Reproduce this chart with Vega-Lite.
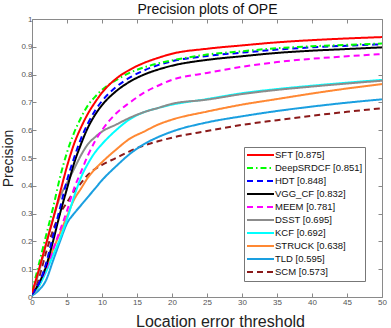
{
 "$schema": "https://vega.github.io/schema/vega-lite/v6.json",
 "width": 350, "height": 278,
 "autosize": {"type": "none"},
 "padding": {"left": 32, "top": 19, "right": 9, "bottom": 31},
 "background": "white",
 "config": {"font": "Liberation Sans", "view": {"stroke": "#8a8a8a", "strokeWidth": 1}},
 "datasets": {
  "curves": [
   {"tracker":"SCM [0.573]","threshold":0,"precision":0.01},{"tracker":"SCM [0.573]","threshold":1,"precision":0.07},{"tracker":"SCM [0.573]","threshold":2,"precision":0.16},{"tracker":"SCM [0.573]","threshold":3,"precision":0.24},{"tracker":"SCM [0.573]","threshold":4,"precision":0.3},{"tracker":"SCM [0.573]","threshold":5,"precision":0.34},{"tracker":"SCM [0.573]","threshold":6,"precision":0.38},{"tracker":"SCM [0.573]","threshold":7,"precision":0.41},{"tracker":"SCM [0.573]","threshold":8,"precision":0.44},{"tracker":"SCM [0.573]","threshold":9,"precision":0.46},{"tracker":"SCM [0.573]","threshold":10,"precision":0.475},{"tracker":"SCM [0.573]","threshold":12,"precision":0.5},{"tracker":"SCM [0.573]","threshold":14,"precision":0.525},{"tracker":"SCM [0.573]","threshold":16,"precision":0.545},{"tracker":"SCM [0.573]","threshold":18,"precision":0.56},{"tracker":"SCM [0.573]","threshold":20,"precision":0.573},{"tracker":"SCM [0.573]","threshold":25,"precision":0.597},{"tracker":"SCM [0.573]","threshold":30,"precision":0.619},{"tracker":"SCM [0.573]","threshold":35,"precision":0.636},{"tracker":"SCM [0.573]","threshold":40,"precision":0.652},{"tracker":"SCM [0.573]","threshold":45,"precision":0.666},{"tracker":"SCM [0.573]","threshold":50,"precision":0.679},
   {"tracker":"TLD [0.595]","threshold":0,"precision":0.005},{"tracker":"TLD [0.595]","threshold":1,"precision":0.025},{"tracker":"TLD [0.595]","threshold":2,"precision":0.06},{"tracker":"TLD [0.595]","threshold":3,"precision":0.13},{"tracker":"TLD [0.595]","threshold":4,"precision":0.2},{"tracker":"TLD [0.595]","threshold":5,"precision":0.265},{"tracker":"TLD [0.595]","threshold":6,"precision":0.3},{"tracker":"TLD [0.595]","threshold":7,"precision":0.33},{"tracker":"TLD [0.595]","threshold":8,"precision":0.36},{"tracker":"TLD [0.595]","threshold":9,"precision":0.39},{"tracker":"TLD [0.595]","threshold":10,"precision":0.42},{"tracker":"TLD [0.595]","threshold":12,"precision":0.47},{"tracker":"TLD [0.595]","threshold":14,"precision":0.515},{"tracker":"TLD [0.595]","threshold":16,"precision":0.55},{"tracker":"TLD [0.595]","threshold":18,"precision":0.575},{"tracker":"TLD [0.595]","threshold":20,"precision":0.595},{"tracker":"TLD [0.595]","threshold":25,"precision":0.628},{"tracker":"TLD [0.595]","threshold":30,"precision":0.65},{"tracker":"TLD [0.595]","threshold":35,"precision":0.669},{"tracker":"TLD [0.595]","threshold":40,"precision":0.685},{"tracker":"TLD [0.595]","threshold":45,"precision":0.699},{"tracker":"TLD [0.595]","threshold":50,"precision":0.711},
   {"tracker":"STRUCK [0.638]","threshold":0,"precision":0.01},{"tracker":"STRUCK [0.638]","threshold":1,"precision":0.04},{"tracker":"STRUCK [0.638]","threshold":2,"precision":0.1},{"tracker":"STRUCK [0.638]","threshold":3,"precision":0.17},{"tracker":"STRUCK [0.638]","threshold":4,"precision":0.23},{"tracker":"STRUCK [0.638]","threshold":5,"precision":0.29},{"tracker":"STRUCK [0.638]","threshold":6,"precision":0.35},{"tracker":"STRUCK [0.638]","threshold":7,"precision":0.39},{"tracker":"STRUCK [0.638]","threshold":8,"precision":0.43},{"tracker":"STRUCK [0.638]","threshold":9,"precision":0.46},{"tracker":"STRUCK [0.638]","threshold":10,"precision":0.485},{"tracker":"STRUCK [0.638]","threshold":12,"precision":0.53},{"tracker":"STRUCK [0.638]","threshold":14,"precision":0.57},{"tracker":"STRUCK [0.638]","threshold":16,"precision":0.595},{"tracker":"STRUCK [0.638]","threshold":18,"precision":0.62},{"tracker":"STRUCK [0.638]","threshold":20,"precision":0.638},{"tracker":"STRUCK [0.638]","threshold":25,"precision":0.667},{"tracker":"STRUCK [0.638]","threshold":30,"precision":0.692},{"tracker":"STRUCK [0.638]","threshold":35,"precision":0.712},{"tracker":"STRUCK [0.638]","threshold":40,"precision":0.732},{"tracker":"STRUCK [0.638]","threshold":45,"precision":0.75},{"tracker":"STRUCK [0.638]","threshold":50,"precision":0.766},
   {"tracker":"KCF [0.692]","threshold":0,"precision":0.01},{"tracker":"KCF [0.692]","threshold":1,"precision":0.04},{"tracker":"KCF [0.692]","threshold":2,"precision":0.09},{"tracker":"KCF [0.692]","threshold":3,"precision":0.15},{"tracker":"KCF [0.692]","threshold":4,"precision":0.21},{"tracker":"KCF [0.692]","threshold":5,"precision":0.28},{"tracker":"KCF [0.692]","threshold":6,"precision":0.36},{"tracker":"KCF [0.692]","threshold":7,"precision":0.43},{"tracker":"KCF [0.692]","threshold":8,"precision":0.48},{"tracker":"KCF [0.692]","threshold":9,"precision":0.52},{"tracker":"KCF [0.692]","threshold":10,"precision":0.55},{"tracker":"KCF [0.692]","threshold":12,"precision":0.6},{"tracker":"KCF [0.692]","threshold":14,"precision":0.64},{"tracker":"KCF [0.692]","threshold":16,"precision":0.665},{"tracker":"KCF [0.692]","threshold":18,"precision":0.68},{"tracker":"KCF [0.692]","threshold":20,"precision":0.692},{"tracker":"KCF [0.692]","threshold":25,"precision":0.712},{"tracker":"KCF [0.692]","threshold":30,"precision":0.733},{"tracker":"KCF [0.692]","threshold":35,"precision":0.748},{"tracker":"KCF [0.692]","threshold":40,"precision":0.76},{"tracker":"KCF [0.692]","threshold":45,"precision":0.771},{"tracker":"KCF [0.692]","threshold":50,"precision":0.781},
   {"tracker":"DSST [0.695]","threshold":0,"precision":0.01},{"tracker":"DSST [0.695]","threshold":1,"precision":0.09},{"tracker":"DSST [0.695]","threshold":2,"precision":0.19},{"tracker":"DSST [0.695]","threshold":3,"precision":0.28},{"tracker":"DSST [0.695]","threshold":4,"precision":0.36},{"tracker":"DSST [0.695]","threshold":5,"precision":0.41},{"tracker":"DSST [0.695]","threshold":6,"precision":0.46},{"tracker":"DSST [0.695]","threshold":7,"precision":0.51},{"tracker":"DSST [0.695]","threshold":8,"precision":0.55},{"tracker":"DSST [0.695]","threshold":9,"precision":0.575},{"tracker":"DSST [0.695]","threshold":10,"precision":0.595},{"tracker":"DSST [0.695]","threshold":12,"precision":0.62},{"tracker":"DSST [0.695]","threshold":14,"precision":0.645},{"tracker":"DSST [0.695]","threshold":16,"precision":0.665},{"tracker":"DSST [0.695]","threshold":18,"precision":0.68},{"tracker":"DSST [0.695]","threshold":20,"precision":0.695},{"tracker":"DSST [0.695]","threshold":25,"precision":0.71},{"tracker":"DSST [0.695]","threshold":30,"precision":0.73},{"tracker":"DSST [0.695]","threshold":35,"precision":0.745},{"tracker":"DSST [0.695]","threshold":40,"precision":0.757},{"tracker":"DSST [0.695]","threshold":45,"precision":0.768},{"tracker":"DSST [0.695]","threshold":50,"precision":0.778},
   {"tracker":"MEEM [0.781]","threshold":0,"precision":0.01},{"tracker":"MEEM [0.781]","threshold":1,"precision":0.05},{"tracker":"MEEM [0.781]","threshold":2,"precision":0.1},{"tracker":"MEEM [0.781]","threshold":3,"precision":0.17},{"tracker":"MEEM [0.781]","threshold":4,"precision":0.24},{"tracker":"MEEM [0.781]","threshold":5,"precision":0.31},{"tracker":"MEEM [0.781]","threshold":6,"precision":0.39},{"tracker":"MEEM [0.781]","threshold":7,"precision":0.45},{"tracker":"MEEM [0.781]","threshold":8,"precision":0.51},{"tracker":"MEEM [0.781]","threshold":9,"precision":0.56},{"tracker":"MEEM [0.781]","threshold":10,"precision":0.6},{"tracker":"MEEM [0.781]","threshold":12,"precision":0.66},{"tracker":"MEEM [0.781]","threshold":14,"precision":0.7},{"tracker":"MEEM [0.781]","threshold":16,"precision":0.735},{"tracker":"MEEM [0.781]","threshold":18,"precision":0.76},{"tracker":"MEEM [0.781]","threshold":20,"precision":0.781},{"tracker":"MEEM [0.781]","threshold":25,"precision":0.806},{"tracker":"MEEM [0.781]","threshold":30,"precision":0.828},{"tracker":"MEEM [0.781]","threshold":35,"precision":0.845},{"tracker":"MEEM [0.781]","threshold":40,"precision":0.857},{"tracker":"MEEM [0.781]","threshold":45,"precision":0.866},{"tracker":"MEEM [0.781]","threshold":50,"precision":0.874},
   {"tracker":"VGG_CF [0.832]","threshold":0,"precision":0.01},{"tracker":"VGG_CF [0.832]","threshold":1,"precision":0.05},{"tracker":"VGG_CF [0.832]","threshold":2,"precision":0.11},{"tracker":"VGG_CF [0.832]","threshold":3,"precision":0.2},{"tracker":"VGG_CF [0.832]","threshold":4,"precision":0.3},{"tracker":"VGG_CF [0.832]","threshold":5,"precision":0.39},{"tracker":"VGG_CF [0.832]","threshold":6,"precision":0.48},{"tracker":"VGG_CF [0.832]","threshold":7,"precision":0.55},{"tracker":"VGG_CF [0.832]","threshold":8,"precision":0.61},{"tracker":"VGG_CF [0.832]","threshold":9,"precision":0.655},{"tracker":"VGG_CF [0.832]","threshold":10,"precision":0.69},{"tracker":"VGG_CF [0.832]","threshold":12,"precision":0.74},{"tracker":"VGG_CF [0.832]","threshold":14,"precision":0.775},{"tracker":"VGG_CF [0.832]","threshold":16,"precision":0.8},{"tracker":"VGG_CF [0.832]","threshold":18,"precision":0.818},{"tracker":"VGG_CF [0.832]","threshold":20,"precision":0.832},{"tracker":"VGG_CF [0.832]","threshold":25,"precision":0.853},{"tracker":"VGG_CF [0.832]","threshold":30,"precision":0.866},{"tracker":"VGG_CF [0.832]","threshold":35,"precision":0.878},{"tracker":"VGG_CF [0.832]","threshold":40,"precision":0.886},{"tracker":"VGG_CF [0.832]","threshold":45,"precision":0.892},{"tracker":"VGG_CF [0.832]","threshold":50,"precision":0.898},
   {"tracker":"HDT [0.848]","threshold":0,"precision":0.01},{"tracker":"HDT [0.848]","threshold":1,"precision":0.05},{"tracker":"HDT [0.848]","threshold":2,"precision":0.12},{"tracker":"HDT [0.848]","threshold":3,"precision":0.22},{"tracker":"HDT [0.848]","threshold":4,"precision":0.32},{"tracker":"HDT [0.848]","threshold":5,"precision":0.42},{"tracker":"HDT [0.848]","threshold":6,"precision":0.5},{"tracker":"HDT [0.848]","threshold":7,"precision":0.57},{"tracker":"HDT [0.848]","threshold":8,"precision":0.625},{"tracker":"HDT [0.848]","threshold":9,"precision":0.67},{"tracker":"HDT [0.848]","threshold":10,"precision":0.705},{"tracker":"HDT [0.848]","threshold":12,"precision":0.755},{"tracker":"HDT [0.848]","threshold":14,"precision":0.79},{"tracker":"HDT [0.848]","threshold":16,"precision":0.815},{"tracker":"HDT [0.848]","threshold":18,"precision":0.834},{"tracker":"HDT [0.848]","threshold":20,"precision":0.848},{"tracker":"HDT [0.848]","threshold":25,"precision":0.867},{"tracker":"HDT [0.848]","threshold":30,"precision":0.879},{"tracker":"HDT [0.848]","threshold":35,"precision":0.89},{"tracker":"HDT [0.848]","threshold":40,"precision":0.898},{"tracker":"HDT [0.848]","threshold":45,"precision":0.904},{"tracker":"HDT [0.848]","threshold":50,"precision":0.909},
   {"tracker":"DeepSRDCF [0.851]","threshold":0,"precision":0.02},{"tracker":"DeepSRDCF [0.851]","threshold":1,"precision":0.12},{"tracker":"DeepSRDCF [0.851]","threshold":2,"precision":0.22},{"tracker":"DeepSRDCF [0.851]","threshold":3,"precision":0.32},{"tracker":"DeepSRDCF [0.851]","threshold":4,"precision":0.43},{"tracker":"DeepSRDCF [0.851]","threshold":5,"precision":0.52},{"tracker":"DeepSRDCF [0.851]","threshold":6,"precision":0.59},{"tracker":"DeepSRDCF [0.851]","threshold":7,"precision":0.645},{"tracker":"DeepSRDCF [0.851]","threshold":8,"precision":0.69},{"tracker":"DeepSRDCF [0.851]","threshold":9,"precision":0.72},{"tracker":"DeepSRDCF [0.851]","threshold":10,"precision":0.745},{"tracker":"DeepSRDCF [0.851]","threshold":12,"precision":0.78},{"tracker":"DeepSRDCF [0.851]","threshold":14,"precision":0.807},{"tracker":"DeepSRDCF [0.851]","threshold":16,"precision":0.826},{"tracker":"DeepSRDCF [0.851]","threshold":18,"precision":0.84},{"tracker":"DeepSRDCF [0.851]","threshold":20,"precision":0.851},{"tracker":"DeepSRDCF [0.851]","threshold":25,"precision":0.872},{"tracker":"DeepSRDCF [0.851]","threshold":30,"precision":0.884},{"tracker":"DeepSRDCF [0.851]","threshold":35,"precision":0.895},{"tracker":"DeepSRDCF [0.851]","threshold":40,"precision":0.902},{"tracker":"DeepSRDCF [0.851]","threshold":45,"precision":0.907},{"tracker":"DeepSRDCF [0.851]","threshold":50,"precision":0.912},
   {"tracker":"SFT [0.875]","threshold":0,"precision":0.015},{"tracker":"SFT [0.875]","threshold":1,"precision":0.1},{"tracker":"SFT [0.875]","threshold":2,"precision":0.19},{"tracker":"SFT [0.875]","threshold":3,"precision":0.28},{"tracker":"SFT [0.875]","threshold":4,"precision":0.375},{"tracker":"SFT [0.875]","threshold":5,"precision":0.47},{"tracker":"SFT [0.875]","threshold":6,"precision":0.55},{"tracker":"SFT [0.875]","threshold":7,"precision":0.61},{"tracker":"SFT [0.875]","threshold":8,"precision":0.66},{"tracker":"SFT [0.875]","threshold":9,"precision":0.7},{"tracker":"SFT [0.875]","threshold":10,"precision":0.735},{"tracker":"SFT [0.875]","threshold":12,"precision":0.785},{"tracker":"SFT [0.875]","threshold":14,"precision":0.818},{"tracker":"SFT [0.875]","threshold":16,"precision":0.842},{"tracker":"SFT [0.875]","threshold":18,"precision":0.86},{"tracker":"SFT [0.875]","threshold":20,"precision":0.875},{"tracker":"SFT [0.875]","threshold":25,"precision":0.893},{"tracker":"SFT [0.875]","threshold":30,"precision":0.905},{"tracker":"SFT [0.875]","threshold":35,"precision":0.916},{"tracker":"SFT [0.875]","threshold":40,"precision":0.924},{"tracker":"SFT [0.875]","threshold":45,"precision":0.93},{"tracker":"SFT [0.875]","threshold":50,"precision":0.935}
  ]
 },
 "data": {"name": "curves"},
 "layer": [
  {
   "mark": {"type": "line", "strokeWidth": 2, "interpolate": "monotone", "clip": true},
   "encoding": {
    "x": {"field": "threshold", "type": "quantitative", "scale": {"domain": [0, 50], "nice": false},
     "axis": {"values": [0,5,10,15,20,25,30,35,40,45,50], "tickSize": -4, "tickColor": "#888", "domain": false, "grid": false, "labelFontSize": 8, "labelColor": "#555", "labelPadding": 5, "labelFlush": false, "labelOverlap": false,
      "title": "Location error threshold", "titleFontSize": 16, "titleFontWeight": "normal", "titleColor": "#222", "titleX": 188, "titleY": 29, "titleBaseline": "alphabetic", "titleAlign": "center"}},
    "y": {"field": "precision", "type": "quantitative", "scale": {"domain": [0, 1], "nice": false},
     "axis": {"values": [0,0.1,0.2,0.3,0.4,0.5,0.6,0.7,0.8,0.9,1], "format": ".1~f", "tickSize": -4, "tickColor": "#888", "domain": false, "grid": false, "labelFontSize": 8, "labelColor": "#555", "labelPadding": 4, "labelOverlap": false,
      "title": "Precision", "titleFontSize": 14, "titleFontWeight": "normal", "titleColor": "#222", "titleX": -20, "titleY": 139, "titleAngle": 270, "titleBaseline": "alphabetic", "titleAlign": "center"}},
    "color": {"field": "tracker", "type": "nominal",
     "scale": {"domain": ["SFT [0.875]","DeepSRDCF [0.851]","HDT [0.848]","VGG_CF [0.832]","MEEM [0.781]","DSST [0.695]","KCF [0.692]","STRUCK [0.638]","TLD [0.595]","SCM [0.573]"],
      "range": ["#ff0000","#00ff00","#0000ff","#000000","#ff00ff","#8c8c8c","#00ffff","#ff8833","#1a9fe0","#8b1a1a"]},
     "legend": {"title": null, "orient": "none", "legendX": 212, "legendY": 128, "symbolType": "stroke", "symbolSize": 729, "symbolStrokeWidth": 2, "clipHeight": 12.2, "rowPadding": 0, "padding": 2, "labelFontSize": 9.5, "labelColor": "#111", "labelOffset": 0, "strokeColor": "#777", "fillColor": "white", "labelLimit": 200}},
    "strokeDash": {"field": "tracker", "type": "nominal",
     "scale": {"domain": ["SFT [0.875]","DeepSRDCF [0.851]","HDT [0.848]","VGG_CF [0.832]","MEEM [0.781]","DSST [0.695]","KCF [0.692]","STRUCK [0.638]","TLD [0.595]","SCM [0.573]"],
      "range": [[1,0],[6,3,1.5,3],[6,4],[1,0],[6,4],[1,0],[1,0],[1,0],[1,0],[6,4]]},
     "legend": {"title": null, "orient": "none", "legendX": 212, "legendY": 128, "symbolType": "stroke", "symbolSize": 729, "symbolStrokeWidth": 2, "clipHeight": 12.2, "rowPadding": 0, "padding": 2, "labelFontSize": 9.5, "labelColor": "#111", "labelOffset": 0, "strokeColor": "#777", "fillColor": "white", "labelLimit": 200}}
   }
  },
  {
   "mark": {"type": "line", "strokeOpacity": 0},
   "encoding": {
    "x": {"field": "threshold", "type": "quantitative", "axis": {"orient": "top", "values": [0,5,10,15,20,25,30,35,40,45,50], "labels": false, "domain": false, "grid": false, "tickSize": -4, "tickColor": "#888", "minExtent": 0, "maxExtent": 0,
      "title": "Precision plots of OPE", "titleFontSize": 14, "titleFontWeight": "normal", "titleColor": "#111", "titleX": 175, "titleY": -5.5, "titleBaseline": "alphabetic", "titleAlign": "center"}},
    "y": {"field": "precision", "type": "quantitative", "axis": {"orient": "right", "values": [0,0.1,0.2,0.3,0.4,0.5,0.6,0.7,0.8,0.9,1], "labels": false, "domain": false, "grid": false, "tickSize": -4, "tickColor": "#888", "title": null, "minExtent": 0, "maxExtent": 0}}
   }
  }
 ],
 "resolve": {"axis": {"x": "independent", "y": "independent"}}
}
